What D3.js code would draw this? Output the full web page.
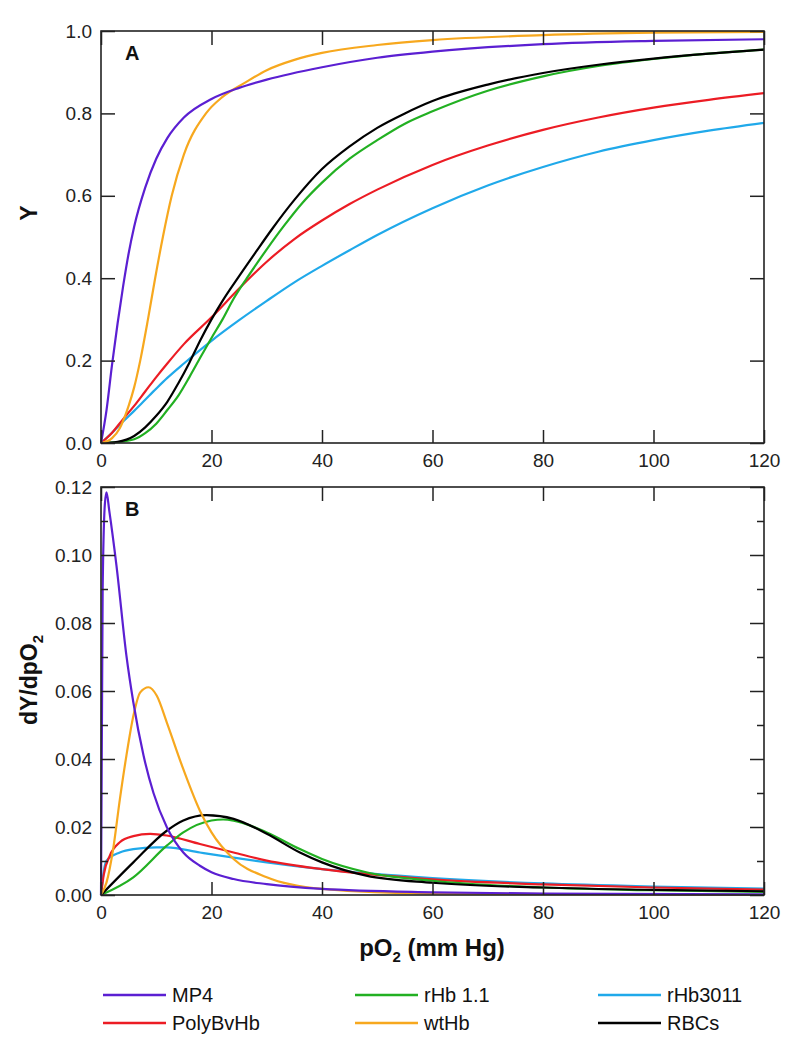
<!DOCTYPE html>
<html><head><meta charset="utf-8">
<script src="https://cdn.jsdelivr.net/npm/d3@7"></script>
<style>
body{margin:0;background:#fff;}
svg{display:block;font-family:"Liberation Sans",Arial,sans-serif;}
</style></head>
<body><svg id="c" width="787" height="1050"></svg>
<script>
// ---------- data ----------
const seriesNames = ["MP4","rHb 1.1","rHb3011","PolyBvHb","wtHb","RBCs"];
const seriesColors = ["#5b1fd2","#22b022","#20a9ea","#ec1c24","#f7a81e","#000000"];

const xTicks = [0,20,40,60,80,100,120];
const yTicksA = [0.0,0.2,0.4,0.6,0.8,1.0];
const yTicksB = [0.00,0.02,0.04,0.06,0.08,0.10,0.12];
const yMinorB = [0.01,0.03,0.05,0.07,0.09,0.11];

// Panel A: saturation Y vs pO2  [pO2, Y]
const mp4A = [[0,0],[1,0.08],[2,0.19],[3,0.29],[4,0.38],[5,0.46],[6,0.525],[8,0.62],[10,0.69],[12,0.74],[15,0.79],[20,0.835],[25,0.862],[30,0.882],[40,0.912],[50,0.935],[60,0.95],[80,0.968],[100,0.976],[120,0.98]];
const rhb11A = [[0,0],[3,0.002],[6,0.009],[8,0.024],[10,0.047],[12,0.08],[14,0.115],[16,0.16],[18,0.208],[20,0.255],[22,0.30],[24,0.35],[26.4,0.40],[30,0.47],[33,0.525],[36.6,0.585],[40,0.632],[45,0.69],[50,0.735],[55,0.775],[60,0.805],[70,0.855],[80,0.89],[90,0.915],[100,0.932],[110,0.945],[120,0.955]];
const rhb3011A = [[0,0],[2,0.025],[4,0.052],[6,0.078],[8,0.105],[10,0.132],[12,0.158],[15,0.193],[20,0.248],[25,0.298],[30,0.345],[35,0.39],[40,0.43],[45,0.468],[50,0.505],[60,0.57],[70,0.625],[80,0.67],[90,0.707],[100,0.735],[110,0.758],[120,0.777]];
const polyA = [[0,0],[2,0.025],[4,0.058],[6,0.09],[8,0.125],[10,0.16],[12,0.193],[15,0.24],[20,0.305],[25,0.375],[30,0.44],[35,0.495],[40,0.54],[45,0.58],[50,0.615],[60,0.675],[70,0.722],[80,0.76],[90,0.79],[100,0.814],[110,0.833],[120,0.849]];
const wtA = [[0,0],[2,0.012],[3.4,0.036],[5,0.09],[6,0.135],[7.1,0.2],[8.5,0.3],[9.8,0.4],[11.2,0.5],[12.8,0.6],[15,0.7],[19,0.8],[22,0.84],[26,0.874],[30,0.905],[35,0.93],[40,0.947],[50,0.966],[60,0.978],[80,0.99],[100,0.996],[120,0.998]];
const rbcA = [[0,0],[3,0.003],[6,0.017],[8,0.038],[10,0.066],[12,0.10],[14,0.145],[16,0.195],[18,0.25],[20,0.30],[22,0.345],[25,0.405],[28,0.463],[31,0.52],[35,0.59],[40,0.665],[45,0.72],[50,0.765],[55,0.80],[60,0.83],[70,0.87],[80,0.898],[90,0.918],[100,0.933],[110,0.945],[120,0.955]];

// Panel B: dY/dpO2 vs pO2  [pO2, dY/dpO2]
const mp4B = [[0,0],[0.3,0.09],[0.7,0.115],[1.0,0.1184],[1.5,0.113],[2.8,0.0969],[4.6,0.0704],[5.85,0.0567],[7.7,0.041],[9.5,0.030],[11.9,0.020],[14.9,0.0125],[17.9,0.0086],[20,0.0067],[24,0.0047],[30,0.0032],[40,0.0018],[60,0.0008],[80,0.0004],[120,0.0002]];
const rhb11B = [[0,0],[5.85,0.0052],[11.9,0.0145],[14.9,0.0184],[20,0.0219],[22.1,0.0222],[24,0.0219],[30,0.0184],[36,0.0135],[40,0.0106],[48,0.0067],[60,0.0042],[80,0.0022],[100,0.0014],[120,0.0009]];
const rhb3011B = [[0,0],[0.5,0.007],[1,0.0101],[3.4,0.0125],[5.85,0.0135],[10,0.014],[11.9,0.014],[17.9,0.0125],[24,0.011],[30,0.0096],[40,0.0076],[60,0.0050],[80,0.0034],[100,0.0025],[120,0.0019]];
const polyB = [[0,0],[0.5,0.006],[1.6,0.0116],[3.4,0.0155],[5.85,0.0173],[8.9,0.018],[11.9,0.0175],[17.9,0.015],[24,0.0125],[30,0.0101],[40,0.0076],[48,0.0062],[60,0.0046],[80,0.0031],[100,0.0022],[120,0.0016]];
const wtB = [[0,0],[1,0.0037],[2.2,0.0135],[3.4,0.028],[4.6,0.041],[5.9,0.053],[7.1,0.0596],[8.6,0.0611],[10.1,0.0586],[11.9,0.0508],[14.9,0.037],[17.9,0.0248],[20,0.0184],[24,0.0106],[30,0.0052],[40,0.0018],[60,0.0004],[120,0.0]];
const rbcB = [[0,0],[5.85,0.0096],[11.9,0.0189],[14.9,0.0219],[19.1,0.0235],[24,0.0224],[30,0.018],[36,0.0125],[40,0.0096],[48,0.0057],[60,0.0036],[80,0.0022],[100,0.0015],[120,0.0011]];

const dataA = [mp4A, rhb11A, rhb3011A, polyA, wtA, rbcA];
const dataB = [mp4B, rhb11B, rhb3011B, polyB, wtB, rbcB];
// draw order (back to front)
const drawOrder = [2,3,1,5,4,0];

// ---------- layout ----------
const svg = d3.select("#c");
const L = 101, R = 764;
const x = d3.scaleLinear().domain([0,120]).range([L,R]);
const yA = d3.scaleLinear().domain([0,1]).range([443,31]);
const yB = d3.scaleLinear().domain([0,0.12]).range([895,487]);
const FS = 19;

function panel(y, yTicks, yMinor, fmt, data, letter){
  const g = svg.append("g");
  const [b,t] = y.range();
  const line = d3.line().x(d=>x(d[0])).y(d=>y(d[1])).curve(d3.curveMonotoneX);
  const cg = g.append("g");
  drawOrder.forEach(i=>{
    cg.append("path").datum(data[i]).attr("d",line)
      .attr("fill","none").attr("stroke",seriesColors[i]).attr("stroke-width",2.2)
      .attr("stroke-linejoin","round");
  });
  const style = sel=>{sel.select(".domain").remove();
    sel.selectAll(".tick line").attr("stroke","#222").attr("stroke-width",1.5);
    sel.selectAll("text").attr("font-size",FS).attr("fill","#222").attr("font-family","'Liberation Sans',Arial,sans-serif");};
  g.append("g").attr("transform",`translate(${L},0)`)
    .call(d3.axisLeft(y).tickValues(yTicks).tickSize(-14).tickPadding(9).tickFormat(fmt)).call(style);
  g.append("g").attr("transform",`translate(${R},0)`)
    .call(d3.axisRight(y).tickValues(yTicks).tickSize(-14).tickFormat("")).call(style);
  if(yMinor){
    g.append("g").attr("transform",`translate(${L},0)`)
      .call(d3.axisLeft(y).tickValues(yMinor).tickSize(-7).tickFormat("")).call(style);
    g.append("g").attr("transform",`translate(${R},0)`)
      .call(d3.axisRight(y).tickValues(yMinor).tickSize(-7).tickFormat("")).call(style);
  }
  g.append("g").attr("transform",`translate(0,${b})`)
    .call(d3.axisBottom(x).tickValues(xTicks).tickSize(-13).tickPadding(11)).call(style);
  g.append("g").attr("transform",`translate(0,${t})`)
    .call(d3.axisTop(x).tickValues(xTicks).tickSize(-14).tickFormat("")).call(style);
  g.append("rect").attr("x",L).attr("y",t).attr("width",R-L).attr("height",b-t)
    .attr("fill","none").attr("stroke","#222").attr("stroke-width",1.6);
  g.append("text").attr("x",125).attr("y",t+29).attr("font-size",20).attr("font-weight","bold")
    .attr("fill","#111").text(letter);
}

panel(yA, yTicksA, null, d3.format(".1f"), dataA, "A");
panel(yB, yTicksB, yMinorB, d3.format(".2f"), dataB, "B");

// axis titles
svg.append("text").attr("transform","translate(37,213) rotate(-90)")
  .attr("text-anchor","middle").attr("font-size",23).attr("font-weight","bold").attr("fill","#111").text("Y");
const t2 = svg.append("text").attr("transform","translate(37,680) rotate(-90)")
  .attr("text-anchor","middle").attr("font-size",23).attr("font-weight","bold").attr("fill","#111");
t2.append("tspan").text("dY/dpO");
t2.append("tspan").attr("font-size",15).attr("dy",6).text("2");

const xt = svg.append("text").attr("x",432).attr("y",956).attr("text-anchor","middle")
  .attr("font-size",24).attr("font-weight","bold").attr("fill","#111");
xt.append("tspan").text("pO");
xt.append("tspan").attr("font-size",15).attr("dy",6).text("2");
xt.append("tspan").attr("dy",-6).text(" (mm Hg)");

// legend
const legCols = [103, 355, 598];
const legRows = [995, 1023];
seriesNames.forEach((name,k)=>{
  const cx = legCols[k%3], cy = legRows[Math.floor(k/3)];
  svg.append("line").attr("x1",cx).attr("x2",cx+63).attr("y1",cy).attr("y2",cy)
    .attr("stroke",seriesColors[k]).attr("stroke-width",2.6);
  svg.append("text").attr("x",cx+69).attr("y",cy+7).attr("font-size",20).attr("fill","#111").text(name);
});
</script></body></html>
